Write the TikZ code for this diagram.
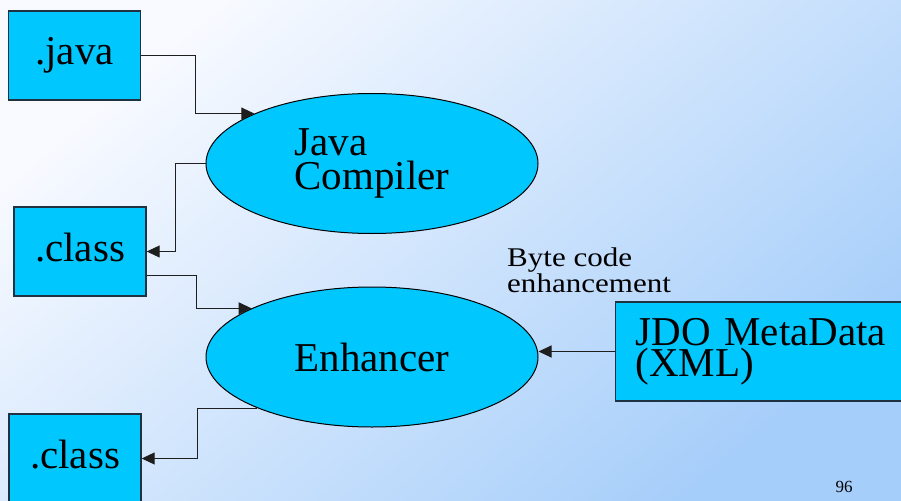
\documentclass[tikz,border=0pt]{standalone}
\usepackage{fontspec}
\setmainfont{Liberation Serif}
\usetikzlibrary{arrows.meta,shapes.geometric,calc}
\definecolor{bgtl}{RGB}{248,250,255}
\definecolor{bgbr}{RGB}{166,206,250}
\definecolor{cyanfill}{RGB}{0,200,255}
\definecolor{boxline}{RGB}{30,50,65}
\definecolor{connline}{RGB}{30,30,30}
\begin{document}
\begin{tikzpicture}[x=1pt,y=-1pt,
  filebox/.style={draw=boxline,line width=1.4pt,fill=cyanfill,rectangle,
    minimum width=132pt,minimum height=89pt,inner sep=0pt,
    font=\fontsize{41}{34}\selectfont,text height=28pt,text depth=9pt},
  proc/.style={draw=black,line width=1pt,fill=cyanfill,ellipse,
    minimum width=332pt,minimum height=140pt,inner sep=0pt,
    font=\fontsize{41}{34}\selectfont},
  conn/.style={draw=connline,line width=1pt,-{Triangle[length=13pt,width=12pt]}}]
\useasboundingbox (0,0) rectangle (901,500);
\shade[top color=bgtl,bottom color=bgbr,shading angle=40] (0,0) rectangle (901,500);

\node[filebox] (java) at (74.5,55.5) {.java};
\node[filebox] (class1) at (80,251.5) {.class};
\node[filebox] (class2) at (75,458.5) {.class};
\node[proc,align=left] (comp) at (372,163.5) {Java\\Compiler};
\node[proc] (enh) at (372,357) {Enhancer};
\node[draw=boxline,line width=1.4pt,fill=cyanfill,rectangle,
  minimum height=99pt,inner xsep=20pt,inner ysep=0pt,text width=270pt,align=left,
  font=\fontsize{41}{31}\selectfont,anchor=west] (jdo) at (615,351.5) {JDO MetaData\\(XML)};

\node[anchor=base west,inner sep=0pt,align=left,font=\fontsize{27}{22}\selectfont] (bce) at (507,292)
  {\scalebox{1.15}[1]{Byte code}\\\scalebox{1.15}[1]{enhancement}};
\node[anchor=base,inner sep=0pt,font=\fontsize{17}{17}\selectfont] (pg) at (844,492) {96};

\draw[conn] (java.east) -- ++(54,0) |- (comp.157.8);
\draw[conn] (comp.west) -- ++(-30,0) |- (class1.east);
\draw[conn] ($(class1.east)+(0,23.5)$) -- ++(50,0) |- (enh.158.4);
\draw[conn] (enh.204.5) -- ++(-60,0) |- (class2.east);
\draw[conn] (jdo.west) -- (jdo.west -| enh.east);
\end{tikzpicture}
\end{document}
